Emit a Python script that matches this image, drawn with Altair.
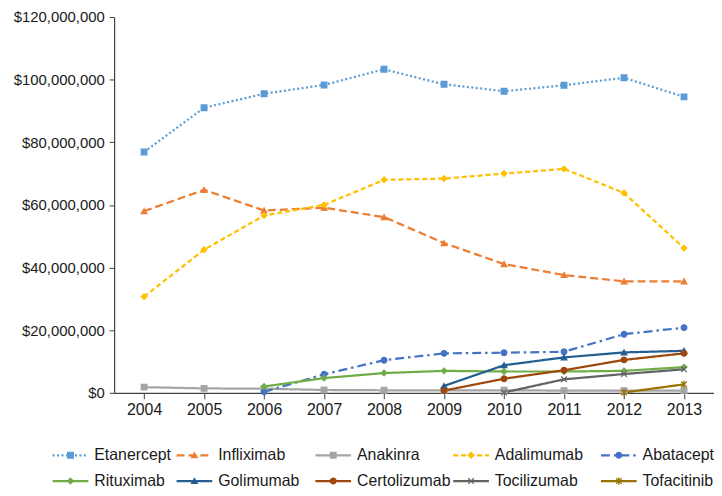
import altair as alt
import pandas as pd

years = ["2004", "2005", "2006", "2007", "2008", "2009", "2010", "2011", "2012", "2013"]

drugs = ["Etanercept", "Infliximab", "Anakinra", "Adalimumab", "Abatacept",
         "Rituximab", "Golimumab", "Certolizumab", "Tocilizumab", "Tofacitinib"]

# values in millions of dollars (None = not on the market)
etanercept = [76.9, 91.0, 95.5, 98.3, 103.3, 98.5, 96.3, 98.2, 100.6, 94.5]
infliximab = [58.0, 64.8, 58.2, 59.1, 56.1, 47.8, 41.1, 37.6, 35.6, 35.6]
anakinra = [1.8, 1.4, 1.3, 0.9, 0.8, 0.8, 0.8, 0.7, 0.7, 0.7]
adalimumab = [30.7, 45.7, 56.6, 60.0, 68.0, 68.4, 70.0, 71.5, 63.8, 46.2]
abatacept = [None, None, 0.3, 5.9, 10.4, 12.6, 12.8, 13.1, 18.7, 20.8]
rituximab = [None, None, 2.0, 4.7, 6.3, 7.0, 6.8, 6.8, 7.0, 8.2]
golimumab = [None, None, None, None, None, 2.2, 8.8, 11.3, 12.9, 13.4]
certolizumab = [None, None, None, None, None, 0.7, 4.5, 7.2, 10.5, 12.6]
tocilizumab = [None, None, None, None, None, None, 0.1, 4.3, 6.0, 7.5]
tofacitinib = [None, None, None, None, None, None, None, None, 0.1, 2.7]

series = [etanercept, infliximab, anakinra, adalimumab, abatacept,
          rituximab, golimumab, certolizumab, tocilizumab, tofacitinib]

legend_col = [0, 1, 2, 3, 4, 0, 1, 2, 3, 4]
legend_row = [0, 0, 0, 0, 0, 1, 1, 1, 1, 1]

colors = ["#5B9BD5", "#ED7D31", "#A5A5A5", "#FFC000", "#4472C4",
          "#70AD47", "#255E91", "#9E480E", "#636363", "#997300"]
dashes = [[2, 2.5], [8, 4], [1, 0], [5, 3], [9, 4, 2.5, 4],
          [1, 0], [1, 0], [1, 0], [1, 0], [1, 0]]
shapes = ["square", "triangle-up", "square", "diamond", "circle",
          "diamond", "triangle-up", "circle",
          "M-1,-1L1,1M-1,1L1,-1",
          "M-1,-1L1,1M-1,1L1,-1M0,-1.3L0,1.3"]

rows = []
for d, vals in zip(drugs, series):
    for yr, v in zip(years, vals):
        if v is not None:
            rows.append({"drug": d, "year": yr, "value": v * 1e6})
df = pd.DataFrame(rows)

leg = pd.DataFrame({"drug": drugs, "col": legend_col, "row": legend_row})

FONT = "Liberation Sans"
FS = 16

color_scale = alt.Scale(domain=drugs, range=colors)
dash_scale = alt.Scale(domain=drugs, range=dashes)
shape_scale = alt.Scale(domain=drugs, range=shapes)

x = alt.X("year:O", sort=years,
          scale=alt.Scale(type="point", padding=0.5, domain=years),
          axis=alt.Axis(title=None, labelAngle=0, tickSize=6, labelPadding=3,
                        labelFontSize=FS, labelFont=FONT, labelColor="#1a1a1a",
                        domainColor="#404040", tickColor="#404040", domainWidth=1.2))
y = alt.Y("value:Q",
          scale=alt.Scale(domain=[0, 120000000], nice=False),
          axis=alt.Axis(title=None, grid=False, format="$,.0f",
                        values=[0, 20e6, 40e6, 60e6, 80e6, 100e6, 120e6],
                        tickSize=5, labelPadding=5, labelFontSize=15, labelFont=FONT,
                        labelColor="#1a1a1a", domainColor="#404040", tickColor="#404040",
                        domainWidth=1.2))

base = alt.Chart(df)
lines = base.mark_line(strokeWidth=2.25).encode(
    x=x, y=y,
    color=alt.Color("drug:N", scale=color_scale, legend=None),
    strokeDash=alt.StrokeDash("drug:N", scale=dash_scale, legend=None),
    detail="drug:N",
)
points = base.mark_point(filled=True, size=32, opacity=1, strokeWidth=1.3).encode(
    x=x, y=y,
    color=alt.Color("drug:N", scale=color_scale, legend=None),
    stroke=alt.Stroke("drug:N", scale=color_scale, legend=None),
    shape=alt.Shape("drug:N", scale=shape_scale, legend=None),
)
main = alt.layer(lines, points)

lx = alt.X("col:Q", scale=alt.Scale(domain=[0, 1, 2, 3, 4], range=[-62, 63, 203, 342, 491]), axis=None)
ly = alt.Y("row:Q", scale=alt.Scale(domain=[0, 1], range=[442, 468]), axis=None)
lbase = alt.Chart(leg)
lrules = lbase.mark_rule(strokeWidth=2.25, x2Offset=36).encode(
    x=lx, x2=alt.X2("col:Q"), y=ly,
    color=alt.Color("drug:N", scale=color_scale, legend=None),
    strokeDash=alt.StrokeDash("drug:N", scale=dash_scale, legend=None),
)
lpoints = lbase.mark_point(filled=True, size=32, opacity=1, strokeWidth=1.3, xOffset=18).encode(
    x=lx, y=ly,
    color=alt.Color("drug:N", scale=color_scale, legend=None),
    stroke=alt.Stroke("drug:N", scale=color_scale, legend=None),
    shape=alt.Shape("drug:N", scale=shape_scale, legend=None),
)
ltext = lbase.mark_text(align="left", baseline="middle", dx=42, fontSize=FS,
                        font=FONT, color="#1a1a1a").encode(
    x=lx, y=ly, text="drug:N")
legend = alt.layer(lrules, lpoints, ltext)

chart = alt.layer(main, legend).resolve_scale(x="independent", y="independent").properties(
    width=605, height=379,
    autosize=alt.AutoSizeParams(type="none"),
    padding={"left": 107, "top": 7, "right": 0, "bottom": 100},
).configure_view(stroke=None)

chart.save("out.html", embed_options={"renderer": "svg", "actions": False})
